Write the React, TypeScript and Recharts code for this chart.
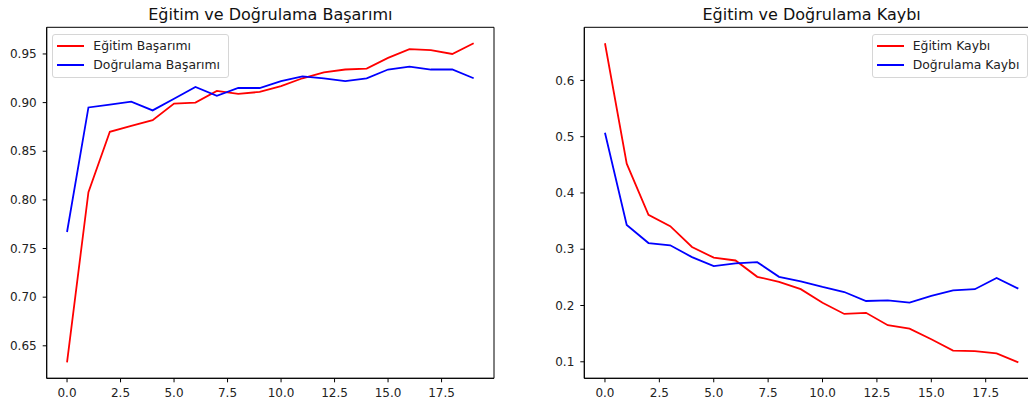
import React from "react"
import { LineChart, Line, XAxis, YAxis, Legend, ReferenceArea } from "recharts"

// epochs 0..19
const epochs = [0, 1, 2, 3, 4, 5, 6, 7, 8, 9, 10, 11, 12, 13, 14, 15, 16, 17, 18, 19]

const trainAcc = [
  0.633, 0.808, 0.870, 0.876, 0.882, 0.899, 0.900, 0.912, 0.909, 0.911,
  0.917, 0.925, 0.931, 0.934, 0.935, 0.946, 0.955, 0.954, 0.950, 0.961,
]
const valAcc = [
  0.767, 0.895, 0.898, 0.901, 0.892, 0.904, 0.916, 0.907, 0.915, 0.915,
  0.922, 0.927, 0.925, 0.922, 0.925, 0.934, 0.937, 0.934, 0.934, 0.925,
]
const trainLoss = [
  0.666, 0.452, 0.361, 0.341, 0.304, 0.285, 0.280, 0.251, 0.242, 0.229,
  0.205, 0.185, 0.187, 0.165, 0.159, 0.140, 0.120, 0.119, 0.115, 0.099,
]
const valLoss = [
  0.507, 0.343, 0.311, 0.307, 0.286, 0.270, 0.275, 0.277, 0.251, 0.243,
  0.233, 0.224, 0.208, 0.209, 0.205, 0.217, 0.227, 0.229, 0.249, 0.230,
]

const xTicks = [0, 2.5, 5, 7.5, 10, 12.5, 15, 17.5]
const accTicks = [0.65, 0.7, 0.75, 0.8, 0.85, 0.9, 0.95]
const lossTicks = [0.1, 0.2, 0.3, 0.4, 0.5, 0.6]

const accData = epochs.map((e, i) => ({ x: e, train: trainAcc[i], val: valAcc[i] }))
const lossData = epochs.map((e, i) => ({ x: e, train: trainLoss[i], val: valLoss[i] }))

// matplotlib-style 5% margins
const pad = (arr: number[]) => {
  const lo = Math.min(...arr)
  const hi = Math.max(...arr)
  const m = (hi - lo) * 0.05
  return [lo - m, hi + m]
}
const xDomain = pad(epochs)
const accDomain = pad([...trainAcc, ...valAcc])
const lossDomain = pad([...trainLoss, ...valLoss])

const FONT = "'DejaVu Sans', sans-serif"
const tickStyle = { fontSize: 12, fill: "#222", fontFamily: FONT }
const seriesOrder = ["train", "val"]

const renderLegend = (props: any) => {
  const items = [...(props.payload || [])].sort(
    (a: any, b: any) => seriesOrder.indexOf(a.dataKey) - seriesOrder.indexOf(b.dataKey)
  )
  return (
    <div
      style={{
        border: "1px solid #d6d6d6",
        borderRadius: 3,
        background: "rgba(255,255,255,0.8)",
        padding: "1px 8px 3px 4px",
        fontFamily: FONT,
        fontSize: 12.4,
        color: "#222",
      }}
    >
      {items.map((entry: any, i: number) => (
        <div key={i} style={{ display: "flex", alignItems: "center", height: 19 }}>
          <div style={{ width: 27, height: 2, background: entry.color, marginRight: 9 }} />
          <span>{entry.value}</span>
        </div>
      ))}
    </div>
  )
}

interface PanelProps {
  data: any[]
  yDomain: number[]
  yTicks: number[]
  yDigits: number
  yWidth: number
  width: number
  rightMargin: number
  trainName: string
  valName: string
  legendPos: React.CSSProperties
}

const Panel: React.FC<PanelProps> = ({
  data,
  yDomain,
  yTicks,
  yDigits,
  yWidth,
  width,
  rightMargin,
  trainName,
  valName,
  legendPos,
}) => (
  <LineChart
    width={width}
    height={405}
    data={data}
    margin={{ top: 27.3, right: rightMargin, left: 0, bottom: 6.7 }}
  >
    <XAxis
      dataKey="x"
      type="number"
      domain={xDomain}
      ticks={xTicks}
      allowDataOverflow
      tickFormatter={(v: number) => v.toFixed(1)}
      tick={tickStyle}
      tickSize={4}
      tickMargin={6}
      height={20}
      stroke="#000"
      interval={0}
    />
    <YAxis
      type="number"
      domain={yDomain}
      ticks={yTicks}
      allowDataOverflow
      tickFormatter={(v: number) => v.toFixed(yDigits)}
      tick={tickStyle}
      tickSize={4}
      tickMargin={6}
      width={yWidth}
      stroke="#000"
      interval={0}
    />
    {/* axes frame */}
    <ReferenceArea
      x1={xDomain[0]}
      x2={xDomain[1]}
      y1={yDomain[0]}
      y2={yDomain[1]}
      fill="none"
      stroke="#000"
      strokeWidth={1}
      ifOverflow="visible"
    />
    <Legend
      content={renderLegend}
      layout="horizontal"
      verticalAlign="middle"
      align="center"
      wrapperStyle={{ ...legendPos, width: "auto" }}
    />
    <Line
      type="linear"
      dataKey="train"
      name={trainName}
      stroke="#ff0000"
      strokeWidth={1.8}
      dot={false}
      isAnimationActive={false}
    />
    <Line
      type="linear"
      dataKey="val"
      name={valName}
      stroke="#0000ff"
      strokeWidth={1.8}
      dot={false}
      isAnimationActive={false}
    />
  </LineChart>
)

const titleStyle: React.CSSProperties = {
  position: "absolute",
  top: 6.5,
  fontFamily: FONT,
  fontSize: 16,
  lineHeight: "16px",
  color: "#111",
  textAlign: "center",
  whiteSpace: "nowrap",
}

export default function App() {
  return (
    <div
      style={{
        position: "absolute",
        left: 0,
        top: 0,
        width: 1028,
        height: 405,
        overflow: "hidden",
        background: "#fff",
      }}
    >
      <div style={{ ...titleStyle, left: 46.7, width: 447.3 }}>Eğitim ve Doğrulama Başarımı</div>
      <div style={{ ...titleStyle, left: 584.3, width: 454.7 }}>Eğitim ve Doğrulama Kaybı</div>

      <div style={{ position: "absolute", left: 0, top: 0 }}>
        <Panel
          data={accData}
          yDomain={accDomain}
          yTicks={accTicks}
          yDigits={2}
          yWidth={46.7}
          width={520}
          rightMargin={26}
          trainName="Eğitim Başarımı"
          valName="Doğrulama Başarımı"
          legendPos={{ left: 52.3, top: 34 }}
        />
      </div>

      <div style={{ position: "absolute", left: 520, top: 0 }}>
        <Panel
          data={lossData}
          yDomain={lossDomain}
          yTicks={lossTicks}
          yDigits={1}
          yWidth={64.3}
          width={540}
          rightMargin={21}
          trainName="Eğitim Kaybı"
          valName="Doğrulama Kaybı"
          legendPos={{ left: 351.7, top: 34 }}
        />
      </div>
    </div>
  )
}
